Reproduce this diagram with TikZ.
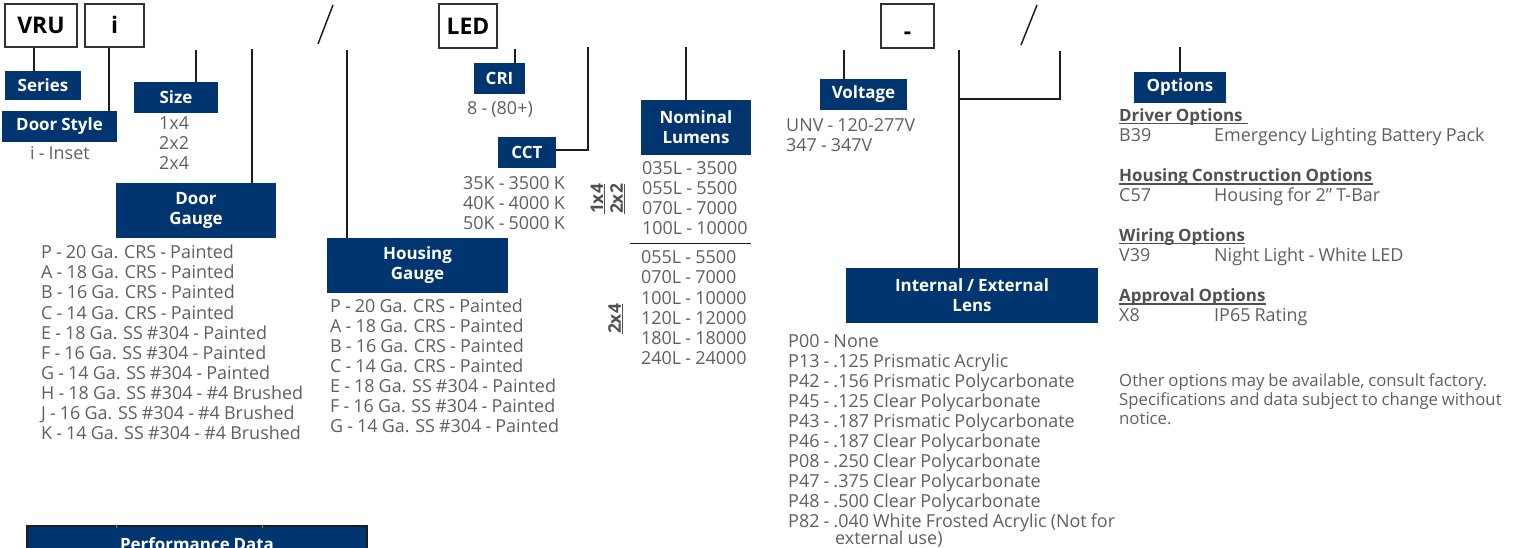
\documentclass[tikz,border=0pt]{standalone}
\usepackage{fontspec}
\setmainfont{Open Sans}[WordSpace=0.88]
\usetikzlibrary{calc}
\definecolor{navyc}{RGB}{0,53,112}
\definecolor{txtgray}{RGB}{95,95,95}
\definecolor{hdrgray}{RGB}{80,80,80}
\definecolor{linec}{RGB}{30,30,30}
\definecolor{boxc}{RGB}{50,50,50}
\begin{document}
\begin{tikzpicture}[x=1bp,y=-1bp,
  topbox/.style={draw=boxc, line width=1.5bp, fill=white, inner sep=0, text height=16.5bp, text depth=0bp, font=\bfseries\fontsize{23}{26}\selectfont, text=black},
  navybox/.style={fill=navyc, inner sep=0, align=center, text=white, font=\bfseries\fontsize{17}{20}\selectfont},
  txt/.style={anchor=base west, inner sep=0, text=txtgray, font=\fontsize{18}{20}\selectfont},
  note/.style={anchor=base west, inner sep=0, text=txtgray, font=\fontsize{16.8}{19}\selectfont},
  hdr/.style={anchor=base west, inner sep=0, text=hdrgray, font=\bfseries\fontsize{17}{20}\selectfont},
  conn/.style={draw=linec, line width=1.5bp},
  ulc/.style={draw=hdrgray, line width=1.3bp},
  rot/.style={rotate=90, inner sep=0, text=hdrgray, font=\bfseries\fontsize{17.5}{20}\selectfont}
]
\useasboundingbox (0,0) rectangle (1513,548);
\clip (0,0) rectangle (1513,548);

% top code boxes
\node[topbox, minimum width=72bp, minimum height=43bp] (vru) at (41,25.5) {VRU};
\node[topbox, minimum width=59bp, minimum height=43bp] (ibox) at (114.5,25.5) {i};
\node[topbox, minimum width=58bp, minimum height=44bp] (led) at (468,26) {LED};
\node[topbox, minimum width=53bp, minimum height=44bp] (dash) at (907.5,26) {\raisebox{-5bp}{-}};
\coordinate (s1a) at (333,5); \coordinate (s1b) at (318,44);
\coordinate (s2a) at (1037,5); \coordinate (s2b) at (1021,45);
\draw[conn] (s1a) -- (s1b);
\draw[conn] (s2a) -- (s2b);

% navy label boxes
\node[navybox, minimum width=76bp, minimum height=29bp] (series) at (43,85.5) {Series};
\node[navybox, minimum width=115bp, minimum height=31bp] (doorstyle) at (59.5,126.5) {Door Style};
\node[navybox, minimum width=84bp, minimum height=31bp] (size) at (176,97.5) {Size};
\node[navybox, minimum width=160bp, minimum height=55bp] (doorgauge) at (196,210.5) {Door\\Gauge};
\node[navybox, minimum width=181bp, minimum height=55bp] (housing) at (417.5,265.5) {Housing\\Gauge};
\node[navybox, minimum width=51bp, minimum height=31bp] (cri) at (499.5,78.5) {CRI};
\node[navybox, minimum width=58bp, minimum height=31bp] (cct) at (527,152.5) {CCT};
\node[navybox, minimum width=110bp, minimum height=55bp] (lumens) at (696,127.5) {Nominal\\Lumens};
\node[navybox, minimum width=87bp, minimum height=31bp] (voltage) at (863.5,94.5) {Voltage};
\node[navybox, minimum width=252bp, minimum height=55bp] (lens) at (972,295.5) {Internal / External\\Lens};
\node[navybox, minimum width=92bp, minimum height=31bp] (options) at (1180,87.5) {Options};
\node[navybox, draw=linec, line width=2bp, minimum width=340bp, minimum height=50bp, anchor=north] (perf) at (197,525) {};
\node[inner sep=0, anchor=base, text=white, font=\bfseries\fontsize{17}{20}\selectfont] (perft) at (197,550) {Performance Data};
\coordinate (pt1) at (116,525); \coordinate (pt2) at (262,525);
\draw[gray, line width=0.6bp] (pt1) -- ++(0,2.5);
\draw[gray, line width=0.6bp] (pt2) -- ++(0,2.5);

% connectors
\coordinate (serx) at (34,0);
\draw[conn] (vru.south -| serx) -- (series.north -| serx);
\coordinate (dsx) at (109,0);
\draw[conn] (ibox.south -| dsx) -- (doorstyle.north -| dsx);
\coordinate (sizetop) at (196,50);
\draw[conn] (sizetop) -- (sizetop |- size.north);
\coordinate (dgtop) at (252,49);
\draw[conn] (dgtop) -- (dgtop |- doorgauge.north);
\coordinate (hgtop) at (347,50);
\draw[conn] (hgtop) -- (hgtop |- housing.north);
\coordinate (crix) at (515,0);
\draw[conn] (led.south -| crix) -- (cri.north -| crix);
\coordinate (ccttop) at (588,47);
\draw[conn] (ccttop) |- ([yshift=2.5bp]cct.east);
\coordinate (lumtop) at (686,47);
\draw[conn] (lumtop) -- (lumtop |- lumens.north);
\coordinate (volttop) at (844,50);
\draw[conn] (volttop) -- (volttop |- voltage.north);
\coordinate (lenstop) at (959,50);
\coordinate (lensj) at (959,99);
\coordinate (lensr) at (1060,51);
\draw[conn] (lenstop) -- (lenstop |- lens.north);
\draw[conn] (lensr) |- (lensj);
\coordinate (opttop) at (1180,47);
\draw[conn] (opttop) -- (opttop |- options.north);

% texts
\node[txt] (inset) at (30,160) {i - Inset};
\foreach \t [count=\k] in {1x4,2x2,2x4}
  \node[txt] (sz\k) at (159,{130+20*(\k-1)}) {\t};
\foreach \t [count=\k] in {P - 20 Ga. CRS - Painted,A - 18 Ga. CRS - Painted,B - 16 Ga. CRS - Painted,C - 14 Ga. CRS - Painted,E - 18 Ga. SS \#304 - Painted,F - 16 Ga. SS \#304 - Painted,G - 14 Ga. SS \#304 - Painted,H - 18 Ga. SS \#304 - \#4 Brushed,J - 16 Ga. SS \#304 - \#4 Brushed,K - 14 Ga. SS \#304 - \#4 Brushed}
  \node[txt] (dg\k) at (41,{259+20*(\k-1)}) {\t};
\foreach \t [count=\k] in {P - 20 Ga. CRS - Painted,A - 18 Ga. CRS - Painted,B - 16 Ga. CRS - Painted,C - 14 Ga. CRS - Painted,E - 18 Ga. SS \#304 - Painted,F - 16 Ga. SS \#304 - Painted,G - 14 Ga. SS \#304 - Painted}
  \node[txt] (hg\k) at (330,{312+20*(\k-1)}) {\t};
\node[txt] (crit) at (467,115) {8 - (80+)};
\foreach \t [count=\k] in {35K - 3500 K,40K - 4000 K,50K - 5000 K}
  \node[txt] (cct\k) at (463,{190+20*(\k-1)}) {\t};
\foreach \t [count=\k] in {035L - 3500,055L - 5500,070L - 7000,100L - 10000}
  \node[txt] (lma\k) at (642,{175+20*(\k-1)}) {\t};
\coordinate (sepl) at (630,243.5);
\draw[conn] (sepl) -- (sepl -| lumens.east);
\foreach \t [count=\k] in {055L - 5500,070L - 7000,100L - 10000,120L - 12000,180L - 18000,240L - 24000}
  \node[txt] (lmb\k) at (641,{264+20*(\k-1)}) {\t};
\node[rot] (r14) at (598,199) {\underline{1x4}};
\node[rot] (r22) at (617.5,199) {\underline{2x2}};
\node[rot] (r24) at (615.5,319) {\underline{2x4}};

\node[txt] (v1) at (786,132) {UNV - 120-277V};
\node[txt] (v2) at (786,152) {347 - 347V};

\foreach \t [count=\k] in {P00 - None,P13 - .125 Prismatic Acrylic,P42 - .156 Prismatic Polycarbonate,P45 - .125 Clear Polycarbonate,P43 - .187 Prismatic Polycarbonate,P46 - .187 Clear Polycarbonate,P08 - .250 Clear Polycarbonate,P47 - .375 Clear Polycarbonate,P48 - .500 Clear Polycarbonate,P82 - .040 White Frosted Acrylic (Not for}
  \node[txt] (ln\k) at (788,{347+20*(\k-1)}) {\t};
\node[txt] (ln11) at (835,544.5) {external use)};

% options
\node[hdr] (h1) at (1119,121.7) {Driver Options};
\node[txt] (o1a) at (1119,141.7) {B39};
\node[txt] (o1b) at (1214,141.7) {Emergency Lighting Battery Pack};
\node[hdr] (h2) at (1119,182) {Housing Construction Options};
\node[txt] (o2a) at (1119,201.7) {C57};
\node[txt] (o2b) at (1214,201.7) {Housing for 2” T-Bar};
\node[hdr] (h3) at (1119,241.7) {Wiring Options};
\node[txt] (o3a) at (1119,261.7) {V39};
\node[txt] (o3b) at (1214,261.7) {Night Light - White LED};
\node[hdr] (h4) at (1119,302) {Approval Options};
\node[txt] (o4a) at (1119,321.7) {X8};
\node[txt] (o4b) at (1214,321.7) {IP65 Rating};
\draw[ulc] ([yshift=-2bp]h1.base west) -- ([yshift=-2bp,xshift=5bp]h1.base east);
\draw[ulc] ([yshift=-2bp]h2.base west) -- ([yshift=-2bp]h2.base east);
\draw[ulc] ([yshift=-2bp]h3.base west) -- ([yshift=-2bp]h3.base east);
\draw[ulc] ([yshift=-2bp]h4.base west) -- ([yshift=-2bp]h4.base east);
\node[note] (n1) at (1119,386.7) {Other options may be available, consult factory.};
\node[note] (n2) at (1119,405.7) {Specifications and data subject to change without};
\node[note] (n3) at (1119,424.7) {notice.};
\end{tikzpicture}
\end{document}
